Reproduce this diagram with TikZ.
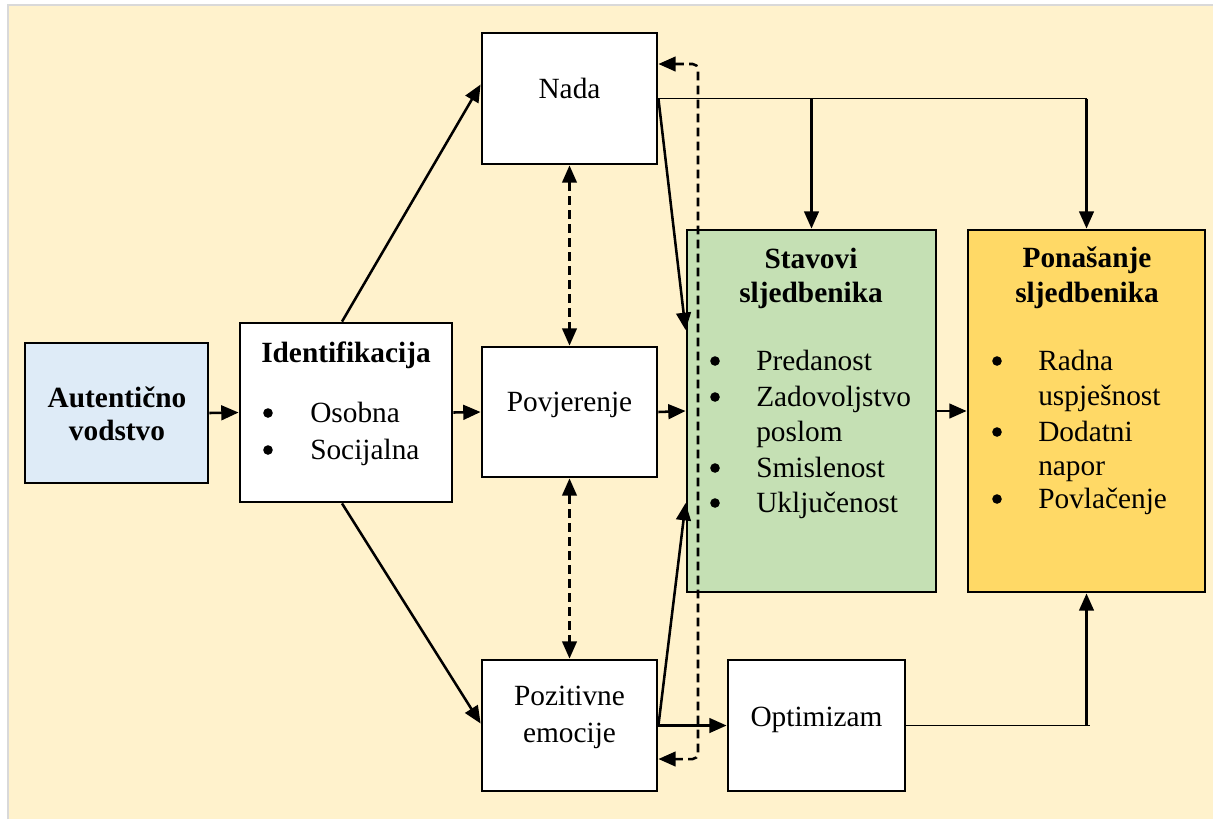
\documentclass[tikz,border=0pt]{standalone}
\usepackage{fontspec}
\setmainfont{Liberation Serif}
\usetikzlibrary{arrows.meta,calc,fit}
\definecolor{cream}{HTML}{FFF2CC}
\definecolor{lblue}{HTML}{DEEBF7}
\definecolor{lgreen}{HTML}{C5E0B4}
\definecolor{lyellow}{HTML}{FFD966}
\tikzset{
  box/.style={draw=black, line width=2.1pt, inner sep=0pt, fill=white},
  txt/.style={font=\fontsize{22pt}{26.6pt}\selectfont, inner sep=0pt, anchor=base},
  txtl/.style={txt, anchor=base west},
  hd/.style={txt, font=\fontsize{22pt}{26.6pt}\selectfont\bfseries},
  bul/.style={circle, fill=black, inner sep=0pt, minimum size=7.2pt},
  arr/.style={line width=1.9pt, -{Triangle[length=13pt,width=11pt]}},
  darr/.style={line width=1.7pt, dash pattern=on 6.5pt off 4pt, {Triangle[length=13pt,width=11pt]}-{Triangle[length=13pt,width=11pt]}},
  thinline/.style={line width=1.1pt},
}
\begin{document}
\begin{tikzpicture}[x=0.75pt,y=-0.75pt]
\useasboundingbox (0,0) rectangle (1213,819);
\fill[white] (0,0) rectangle (1213,819);
\fill[cream] (8,5) rectangle (1213,819);
\draw[black!15, line width=1pt] (8,819) |- (1213,5);

% boxes
\node[box, fill=lblue, fit={(25,343) (208,483)}] (aut) {};
\node[box, fit={(240,323) (452,502)}] (ident) {};
\node[box, fit={(482,33) (657,164)}] (nada) {};
\node[box, fit={(482,347) (657,477)}] (pov) {};
\node[box, fit={(482,660) (657,791)}] (pos) {};
\node[box, fit={(728,660) (905,791)}] (opt) {};
\node[box, fill=lgreen, fit={(687,230) (936,592)}] (stav) {};
\node[box, fill=lyellow, fit={(968,230) (1205,592)}] (pon) {};

% texts
\node[hd] (t-aut1) at (117,407) {Autentično};
\node[hd] (t-aut2) at (117,440) {vodstvo};

\node[hd] (t-id) at (346,362) {Identifikacija};
\node[bul] (b-id1) at (268,413) {};
\node[bul] (b-id2) at (268,450) {};
\node[txtl] (t-id1) at (310,422) {Osobna};
\node[txtl] (t-id2) at (310,459) {Socijalna};

\node[txt] (t-nada) at (569.5,98) {Nada};
\node[txt] (t-pov) at (569.5,411) {Povjerenje};
\node[txt] (t-pos1) at (569.5,705) {Pozitivne};
\node[txt] (t-pos2) at (569.5,742) {emocije};
\node[txt] (t-opt) at (816.5,726) {Optimizam};

\node[hd] (t-st1) at (811,268) {Stavovi};
\node[hd] (t-st2) at (811,302) {sljedbenika};
\node[bul] (b-st1) at (715,361) {};
\node[bul] (b-st2) at (715,397) {};
\node[bul] (b-st3) at (715,468) {};
\node[bul] (b-st4) at (715,503) {};
\node[txtl] (t-st1a) at (756,370) {Predanost};
\node[txtl] (t-st2a) at (756,406) {Zadovoljstvo};
\node[txtl] (t-st2b) at (756,441) {poslom};
\node[txtl] (t-st3a) at (756,477) {Smislenost};
\node[txtl] (t-st4a) at (756,512) {Uključenost};

\node[hd] (t-pn1) at (1087,267) {Ponašanje};
\node[hd] (t-pn2) at (1087,302) {sljedbenika};
\node[bul] (b-pn1) at (997,361) {};
\node[bul] (b-pn2) at (997,432) {};
\node[bul] (b-pn3) at (997,499) {};
\node[txtl] (t-pn1a) at (1038,370) {Radna};
\node[txtl] (t-pn1b) at (1038,405) {uspješnost};
\node[txtl] (t-pn2a) at (1038,441) {Dodatni};
\node[txtl] (t-pn2b) at (1038,475) {napor};
\node[txtl] (t-pn3a) at (1038,508) {Povlačenje};

% connectors
\coordinate (fb) at (698,400);
\draw[arr] (aut.east) -- (ident.west);
\draw[arr] (ident.east) -- (pov.west);
\draw[arr] ($(ident.north)+(-4,0)$) -- ($(nada.west)+(0,-14)$);
\draw[arr] ($(ident.south)+(-4,0)$) -- ($(pos.west)+(0,-2)$);
\draw[arr] (pov.east) -- (stav.west);
\draw[arr] (nada.east) -- ($(stav.west)+(0,-81)$);
\draw[arr] (pos.east) -- ($(stav.west)+(0,92)$);
\draw[arr] (pos.east) -- (opt.west);
\draw[arr] (stav.east) -- (pon.west);
\draw[darr] (nada.south) -- (pov.north);
\draw[darr] (pov.south) -- (pos.north);
\draw[darr, line width=1.9pt, rounded corners=4pt] ($(nada.east)+(0,-34.5)$) -| (fb) |- ($(pos.east)+(0,33.5)$);
\draw[thinline] (nada.east) -- (nada.east -| pon.north);
\draw[arr] (nada.east -| stav.north) -- (stav.north);
\draw[arr] (nada.east -| pon.north) -- (pon.north);
\draw[thinline] (opt.east) -- ($(opt.east -| pon.south)+(3,0)$);
\draw[arr] (opt.east -| pon.south) -- (pon.south);
\end{tikzpicture}
\end{document}
